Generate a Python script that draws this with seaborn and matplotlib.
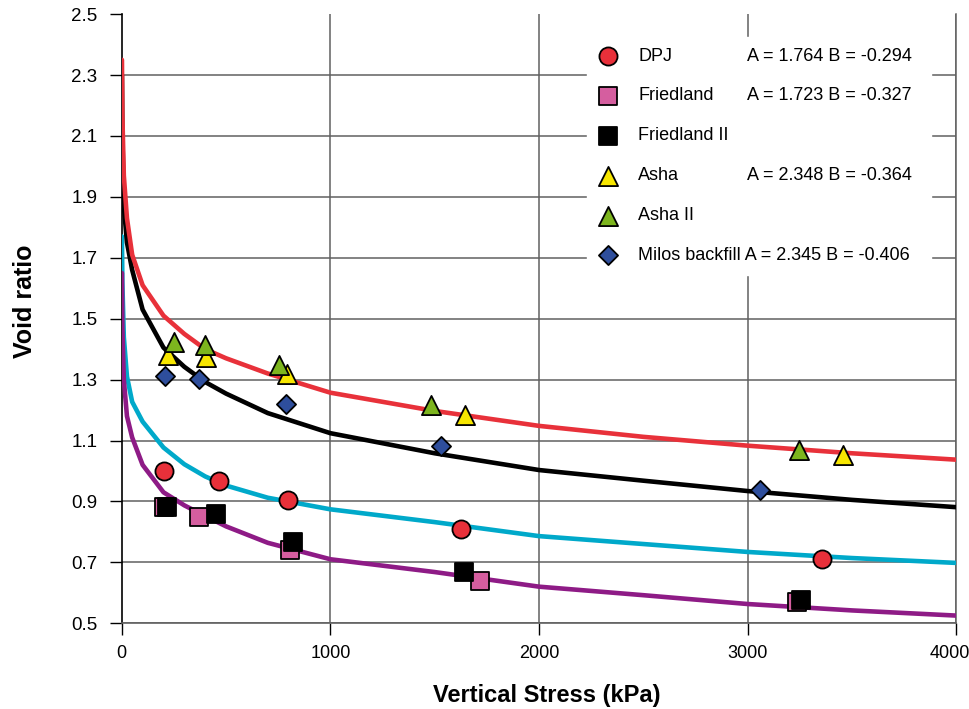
import matplotlib
matplotlib.use("Agg")
import matplotlib.pyplot as plt
import matplotlib.transforms as mtransforms
import seaborn as sns
import pandas as pd

# ---------------- data ----------------
curve_stress = [1, 3, 10, 25, 50, 100, 200, 300, 400, 500, 700, 1000, 1500, 2000, 2500, 3000, 3500, 4000]
asha_fit = [2.35, 2.17, 1.97, 1.83, 1.71, 1.61, 1.51, 1.45, 1.40, 1.37, 1.32, 1.257, 1.197, 1.148, 1.112, 1.083, 1.058, 1.037]
milos_fit = [2.30, 2.11, 1.87, 1.75, 1.66, 1.53, 1.405, 1.342, 1.292, 1.254, 1.19, 1.124, 1.058, 1.003, 0.968, 0.934, 0.905, 0.881]
dpj_fit = [1.77, 1.62, 1.44, 1.31, 1.227, 1.162, 1.077, 1.022, 0.982, 0.952, 0.912, 0.874, 0.832, 0.786, 0.76, 0.734, 0.714, 0.698]
friedland_fit = [1.65, 1.47, 1.30, 1.18, 1.11, 1.02, 0.93, 0.887, 0.852, 0.818, 0.764, 0.71, 0.668, 0.62, 0.592, 0.563, 0.542, 0.525]

dpj_x = [203, 466, 797, 1624, 3356]
dpj_y = [0.999, 0.966, 0.904, 0.809, 0.712]
friedland_x = [203, 370, 808, 1715, 3235]
friedland_y = [0.881, 0.849, 0.739, 0.640, 0.569]
friedland2_x = [217, 450, 821, 1640, 3256]
friedland2_y = [0.882, 0.859, 0.767, 0.667, 0.577]
asha_x = [222, 406, 794, 1646, 3455]
asha_y = [1.382, 1.374, 1.320, 1.185, 1.054]
asha2_x = [249, 398, 754, 1483, 3245]
asha2_y = [1.422, 1.415, 1.349, 1.218, 1.070]
milos_x = [209, 369, 789, 1528, 3061]
milos_y = [1.313, 1.302, 1.221, 1.081, 0.936]

series_names = ["DPJ", "Friedland", "Friedland II", "Asha", "Asha II", "Milos backfill"]
fit_texts = ["A = 1.764 B = -0.294", "A = 1.723 B = -0.327", "", "A = 2.348 B = -0.364", "", ""]
milos_fit_text = "A = 2.345 B = -0.406"

x_ticks = [0, 1000, 2000, 3000, 4000]
y_ticks = [0.5, 0.7, 0.9, 1.1, 1.3, 1.5, 1.7, 1.9, 2.1, 2.3, 2.5]

# ---------------- style ----------------
sns.set_theme(style="white")
plt.rcParams["font.family"] = ["Liberation Sans", "DejaVu Sans"]
plt.rcParams["text.color"] = "black"
plt.rcParams["axes.labelcolor"] = "black"
plt.rcParams["xtick.color"] = "black"
plt.rcParams["ytick.color"] = "black"

fig = plt.figure(figsize=(9.7, 7.09), dpi=100)
ax = fig.add_axes([0.1255, 0.121, 0.8605, 0.859])

grid_c = "#606060"

# fitted curves
curves = pd.DataFrame({"stress": curve_stress, "asha": asha_fit, "milos": milos_fit,
                       "dpj": dpj_fit, "friedland": friedland_fit})
for col, c in [("dpj", "#00A9CA"), ("friedland", "#8E1B86"), ("milos", "#000000"), ("asha", "#E8313A")]:
    sns.lineplot(data=curves, x="stress", y=col, color=c, lw=3.3, sort=False,
                 estimator=None, ax=ax, zorder=3)

# measured points
point_specs = [
    (dpj_x, dpj_y, "o", "#E8303A", 170),
    (friedland_x, friedland_y, "s", "#D55E9F", 165),
    (friedland2_x, friedland2_y, "s", "#000000", 165),
    (asha_x, asha_y, "^", "#F7E600", 190),
    (asha2_x, asha2_y, "^", "#7DB51E", 190),
    (milos_x, milos_y, "D", "#2E4E9C", 95),
]
for (xs, ys, m, c, s), name in zip(point_specs, series_names):
    sns.scatterplot(x=xs, y=ys, marker=m, color=c, s=s, edgecolor="black",
                    linewidth=1.3, ax=ax, zorder=6, label=name)
hs, ls = ax.get_legend_handles_labels()
labels = [n if n != "Milos backfill" else n + " " + milos_fit_text + "  " for n in series_names]
leg = ax.legend(hs[:6], labels, loc="upper left", bbox_to_anchor=(0.558, 0.963),
                borderaxespad=0, frameon=True, facecolor="white", edgecolor="white",
                framealpha=1, fancybox=False, fontsize=13, handlelength=1.1,
                handletextpad=1.1, labelspacing=1.27, borderpad=0.6, markerscale=1.0)
leg.set_zorder(10)
for t in leg.get_texts():
    t.set_color("black")

# axes, ticks, grid
ax.set_xlim(0, 4000)
ax.set_ylim(0.5, 2.5)
ax.set_xticks(x_ticks)
ax.set_yticks(y_ticks)
ax.set_yticklabels([f"{v:.1f}" for v in y_ticks])
ax.grid(True, color=grid_c, lw=1.1)
ax.get_ygridlines()[-1].set_visible(False)
ax.get_xgridlines()[0].set_visible(False)
ax.tick_params(axis="both", which="major", direction="out", length=8.5, width=1.0,
               color="black", left=True, bottom=True)
ax.tick_params(axis="y", labelsize=13.5, pad=9)
ax.tick_params(axis="x", labelsize=13, pad=7)
ax.spines["top"].set_visible(False)
ax.spines["right"].set_color(grid_c)
ax.spines["right"].set_linewidth(1.1)
ax.spines["left"].set_color("black")
ax.spines["left"].set_linewidth(1.2)
ax.spines["bottom"].set_color(grid_c)
ax.spines["bottom"].set_linewidth(1.2)

# keep the last x tick label inside the figure, as in the reference
last_lbl = ax.get_xticklabels()[-1]
last_lbl.set_transform(last_lbl.get_transform() +
                       mtransforms.ScaledTranslation(-0.07, 0, fig.dpi_scale_trans))

ax.set_xlabel("Vertical Stress (kPa)", fontsize=17, fontweight="bold")
ax.xaxis.set_label_coords(0.509, -0.099)
ax.set_ylabel("Void ratio", fontsize=18, fontweight="bold")
ax.yaxis.set_label_coords(-0.101, 0.529)

# A/B texts aligned to legend rows
fig.canvas.draw()
renderer = fig.canvas.get_renderer()
for txt, ft in zip(leg.get_texts(), fit_texts):
    if not ft:
        continue
    bb = txt.get_window_extent(renderer)
    yc = (bb.y0 + bb.y1) / 2 / fig.bbox.height
    fig.text(747 / 970, yc, ft, fontsize=13, va="center", ha="left",
             color="black", zorder=20)

fig.savefig("out.png", dpi=100)
